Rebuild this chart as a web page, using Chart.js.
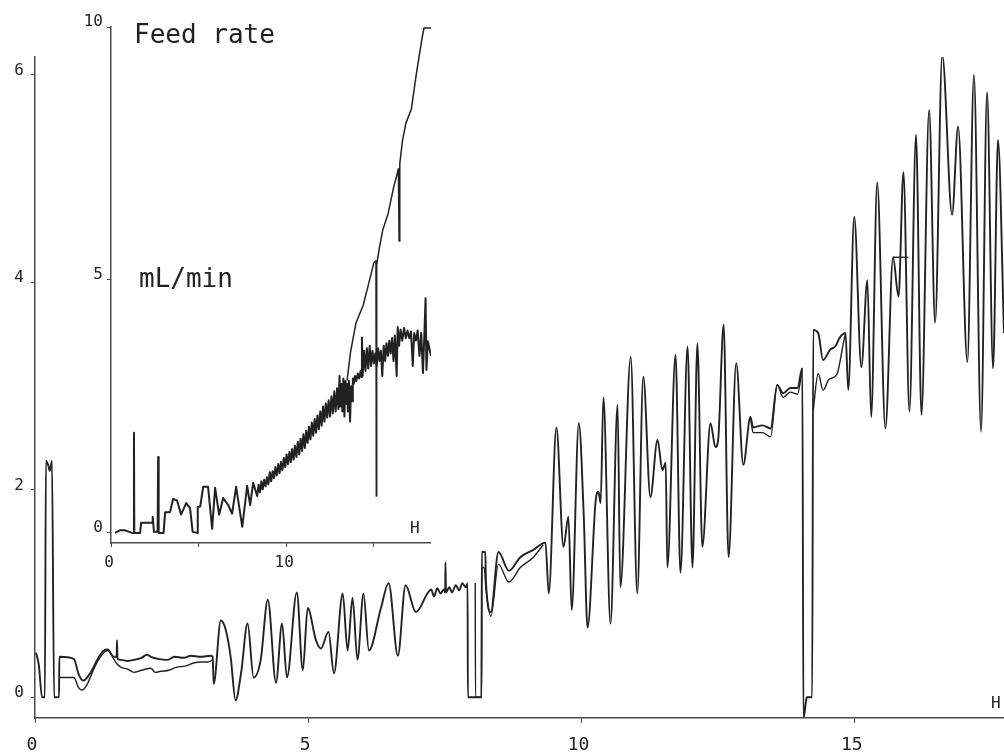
<!DOCTYPE html>
<html>
<head>
<meta charset="utf-8">
<script src="https://cdn.jsdelivr.net/npm/chart.js@4.4.1/dist/chart.umd.min.js"></script>
<style>
  body { margin: 0; background: #fff; }
  #wrap { position: relative; width: 1004px; height: 755px; overflow: hidden; }
  #main { position: absolute; left: 0; top: 0; }
  #inset { position: absolute; left: 60px; top: 0; }
  .lbl { position: absolute; font-family: 'DejaVu Sans Mono', monospace; color: #222; white-space: nowrap; line-height: 1; }
</style>
</head>
<body>
<div id="wrap">
  <canvas id="main" width="1004" height="755"></canvas>
  <canvas id="inset" width="371" height="575"></canvas>
  <div class="lbl" style="left:134px;top:21px;font-size:26px">Feed rate</div>
  <div class="lbl" style="left:139px;top:265px;font-size:26px">mL/min</div>
  <div class="lbl" style="left:410px;top:520px;font-size:16px">H</div>
  <div class="lbl" style="left:991px;top:695px;font-size:16px">H</div>
</div>
<script>
// main recording, hours vs signal (two pens, mostly on top of each other)

var mainHourTicks = [0, 5, 10, 15];
var mainValueTicks = [0, 2, 4, 6];

var penA = [
  [0.02,0.43],[0.07,0.31],[0.13,0.00],[0.18,0.00],[0.20,2.28],[0.24,2.24],[0.27,2.18],[0.31,2.28],
  [0.35,0.00],[0.44,0.00],[0.445,0.39],[0.71,0.37],[0.80,0.22],[0.88,0.16],[1.02,0.24],[1.16,0.38],
  [1.26,0.45],[1.33,0.46],[1.44,0.39],[1.495,0.39],[1.50,0.55],[1.51,0.37],[1.57,0.36],[1.70,0.35],
  [1.81,0.36],[1.95,0.38],[2.05,0.41],[2.12,0.39],[2.25,0.37],[2.43,0.36],[2.55,0.39],[2.72,0.38],
  [2.85,0.40],[3.03,0.39],[3.22,0.40],[3.25,0.39],[3.27,0.13],[3.40,0.74],[3.49,0.65],[3.58,0.39],
  [3.67,-0.03],[3.77,0.23],[3.89,0.71],[4.00,0.19],[4.13,0.36],[4.26,0.94],[4.41,0.14],[4.52,0.71],
  [4.61,0.19],[4.79,1.01],[4.90,0.26],[4.99,0.86],[5.14,0.55],[5.23,0.47],[5.37,0.63],[5.47,0.23],
  [5.63,1.00],[5.72,0.45],[5.81,0.96],[5.90,0.36],[6.01,1.00],[6.11,0.45],[6.33,0.86],[6.47,1.10],
  [6.64,0.40],[6.78,1.08],[6.97,0.82],[7.18,1.00],[7.25,1.04],[7.30,0.97],[7.36,1.05],[7.42,1.00],
  [7.48,1.04],[7.505,1.01],[7.51,1.30],[7.52,1.01],[7.58,1.06],[7.63,1.01],[7.70,1.08],[7.76,1.03],
  [7.82,1.10],[7.88,1.06],[7.915,1.10],[7.92,0.00],[8.17,0.00],[8.175,1.40],[8.24,1.40],[8.25,1.13],
  [8.34,0.82],[8.48,1.40],[8.67,1.22],[8.88,1.35],[9.12,1.42],[9.34,1.49],[9.40,1.00],[9.54,2.60],
  [9.67,1.45],[9.76,1.74],[9.82,0.84],[9.95,2.64],[10.04,1.76],[10.11,0.67],[10.26,1.90],[10.31,1.98],
  [10.35,1.87],[10.40,2.89],[10.53,0.71],[10.66,2.82],[10.71,1.06],[10.90,3.28],[11.02,1.00],[11.13,3.09],
  [11.26,1.93],[11.39,2.48],[11.48,2.19],[11.54,2.26],[11.57,1.25],[11.72,3.30],[11.81,1.20],[11.94,3.38],
  [12.03,1.25],[12.12,3.41],[12.21,1.45],[12.36,2.64],[12.45,2.41],[12.50,2.48],[12.60,3.59],[12.69,1.35],
  [12.83,3.22],[12.96,2.24],[13.09,2.70],[13.14,2.60],[13.31,2.62],[13.46,2.59],[13.58,3.01],[13.69,2.93],
  [13.82,2.98],[13.95,2.98],[14.04,3.17],[14.06,-0.20],[14.11,-0.03],[14.12,0.00],[14.22,0.00],[14.24,3.54],
  [14.33,3.51],[14.42,3.25],[14.55,3.35],[14.64,3.38],[14.73,3.47],[14.83,3.51],[14.88,2.96],[14.99,4.63],
  [15.12,3.18],[15.23,4.02],[15.30,2.70],[15.41,4.96],[15.56,2.59],[15.70,4.24],[15.80,3.86],[15.89,5.06],
  [16.00,2.75],[16.12,5.42],[16.22,2.72],[16.36,5.66],[16.47,3.61],[16.60,6.19],[16.78,4.65],[16.89,5.50],
  [17.06,3.23],[17.18,6.00],[17.31,2.56],[17.42,5.83],[17.53,3.17],[17.62,5.37],[17.73,3.51]
];

// second pen, only where it separates from the first
var penB1 = [
  [0.44,0.19],[0.71,0.19],[0.80,0.09],[0.86,0.07],[0.95,0.12],[1.10,0.30],[1.26,0.43],[1.33,0.45],
  [1.44,0.37],[1.50,0.32],[1.57,0.29],[1.70,0.27],[1.81,0.24],[1.95,0.26],[2.12,0.28],[2.20,0.24],
  [2.30,0.25],[2.45,0.26],[2.60,0.29],[2.75,0.30],[2.90,0.33],[3.05,0.34],[3.17,0.34],[3.25,0.36]
];
var penB2 = [
  [8.055,1.10],[8.06,0.00],[8.17,0.00],[8.175,1.25],[8.22,1.25],[8.25,1.05],[8.34,0.78],[8.48,1.28],
  [8.67,1.11],[8.88,1.25],[9.12,1.35],[9.30,1.47]
];
var penB3 = [
  [13.09,2.70],[13.14,2.55],[13.31,2.55],[13.46,2.51],[13.58,3.01],[13.69,2.89],[13.82,2.94],[13.95,2.92],[14.04,3.17]
];
var penB4 = [
  [14.24,2.77],[14.33,3.12],[14.42,2.96],[14.52,3.06],[14.60,3.08],[14.68,3.12],[14.79,3.41],[14.83,3.51]
];
var penB5 = [[15.70,4.24],[15.98,4.24]];

// inset: feed rate (mL/min) vs hours
var insetHourTicks = [0, 5, 10, 15];
var insetHourLabels = ['0', '', '10', ''];
var insetRateTicks = [0, 5, 10];

var feedLow = [
  [0.23,0.00],[0.50,0.05],[0.80,0.05],[1.20,0.00],[1.29,0.00],[1.31,1.98],[1.33,0.00],[1.66,0.00],
  [1.72,0.20],[2.34,0.20],[2.38,0.32],[2.45,0.02],[2.66,0.02],[2.69,1.50],[2.72,0.00],[3.00,0.00],
  [3.09,0.41],[3.37,0.41],[3.54,0.67],[3.77,0.64],[4.00,0.36],[4.29,0.59],[4.51,0.49],[4.66,0.02],
  [4.91,0.00],[4.95,0.51],[5.09,0.52],[5.26,0.91],[5.54,0.91],[5.77,0.08],[5.94,0.89],[6.17,0.36],
  [6.40,0.69],[6.69,0.55],[6.91,0.38],[7.14,0.91],[7.49,0.12],[7.77,0.93],[7.94,0.55],[8.11,0.99],
  [8.34,0.73],[8.42,0.95],[8.50,0.80],[8.58,1.02],[8.66,0.86],[8.74,1.05],[8.82,0.92],[8.90,1.10],
  [8.98,0.96],[9.06,1.20],[9.14,1.02],[9.22,1.22],[9.30,1.08],[9.38,1.30],[9.46,1.14],[9.54,1.36],
  [9.62,1.18],[9.70,1.40],[9.78,1.24],[9.86,1.48],[9.94,1.30],[10.02,1.55],[10.10,1.36],[10.18,1.60],
  [10.26,1.40],[10.34,1.66],[10.42,1.45],[10.50,1.72],[10.58,1.50],[10.66,1.80],[10.74,1.55],[10.82,1.86],
  [10.90,1.62],[10.98,1.95],[11.06,1.68],[11.14,2.02],[11.22,1.78],[11.30,2.10],[11.38,1.85],[11.46,2.18],
  [11.54,1.92],[11.62,2.25],[11.70,1.98],[11.78,2.32],[11.86,2.05],[11.94,2.40],[12.02,2.12],[12.10,2.50],
  [12.18,2.20],[12.26,2.56],[12.34,2.28],[12.42,2.62],[12.50,2.30],[12.58,2.70],[12.66,2.36],[12.74,2.80],
  [12.82,2.40],[12.90,2.86],[12.98,2.45],[13.04,3.10],[13.08,2.50],[13.14,2.95],[13.20,2.40],[13.26,3.05],
  [13.32,2.30],[13.38,3.00],[13.44,2.55],[13.48,2.95],[13.52,2.40],[13.58,3.00],[13.64,2.20],[13.70,2.90],
  [13.76,2.60],[13.80,3.05],[13.86,2.95],[13.92,3.10],[14.00,3.00],[14.08,3.15],[14.16,3.05],[14.24,3.20],
  [14.30,3.08],[14.32,3.86],[14.36,3.10],[14.44,3.60],[14.52,3.20],[14.60,3.65],[14.68,3.25],[14.76,3.70],
  [14.84,3.30],[14.92,3.60],[15.00,3.35],[15.08,3.55],[15.16,3.30],[15.24,3.65],[15.32,3.40],[15.40,3.60],
  [15.48,3.10],[15.56,3.70],[15.64,3.40],[15.72,3.75],[15.80,3.50],[15.88,3.80],[15.96,3.55],[16.04,3.85],
  [16.12,3.40],[16.20,3.90],[16.30,3.10],[16.36,4.07],[16.44,3.70],[16.52,4.02],[16.62,3.80],[16.72,4.05],
  [16.82,3.85],[16.92,4.00],[17.02,3.85],[17.12,3.98],[17.22,3.30],[17.30,3.95],[17.40,3.80],[17.50,4.00],
  [17.60,3.50],[17.70,3.95],[17.80,3.16],[17.88,3.90],[17.95,4.64],[18.00,3.22],[18.08,3.79],[18.26,3.50]
];

var feedHigh = [
  [13.47,3.01],[13.67,3.58],[13.98,4.15],[14.39,4.50],[14.80,5.06],[15.00,5.34],[15.12,5.38],[15.14,0.73],
  [15.16,5.30],[15.31,5.63],[15.51,5.99],[15.82,6.32],[16.12,6.82],[16.33,7.10],[16.40,7.20],[16.44,5.77],
  [16.48,7.30],[16.63,7.75],[16.83,8.10],[17.14,8.38],[17.43,9.09],[17.75,9.78],[17.86,9.98],[18.26,9.98]
];

var ink = '#222';
var axisInk = '#4a4a4a';
var monoFont = "'DejaVu Sans Mono', monospace";

function trace(points, width, smooth) {
  return {
    data: points.map(function (p) { return { x: p[0], y: p[1] }; }),
    borderColor: ink,
    borderWidth: width,
    borderJoinStyle: 'round',
    pointRadius: 0,
    fill: false,
    cubicInterpolationMode: smooth ? 'monotone' : 'default',
    tension: 0
  };
}

function fixTicks(values) {
  return function (scale) {
    scale.ticks = values.map(function (v) { return { value: v }; });
  };
}

new Chart(document.getElementById('main'), {
  type: 'line',
  data: {
    datasets: [
      trace(penA, 1.9, true),
      trace(penB1, 1.4, true),
      trace(penB2, 1.4, true),
      trace(penB3, 1.4, true),
      trace(penB4, 1.4, true),
      trace(penB5, 1.4, false)
    ]
  },
  options: {
    responsive: false,
    animation: false,
    layout: { padding: { top: 57, right: 0, bottom: 0, left: 0 } },
    plugins: { legend: { display: false }, tooltip: { enabled: false } },
    scales: {
      x: {
        type: 'linear',
        min: 0,
        max: 17.73,
        afterBuildTicks: fixTicks(mainHourTicks),
        afterFit: function (s) { s.height = 37; },
        grid: { drawOnChartArea: false, drawTicks: true, tickLength: 5, color: axisInk },
        border: { color: axisInk, width: 1.5 },
        ticks: { color: ink, font: { family: monoFont, size: 18 }, padding: 12, maxRotation: 0, labelOffset: -3 }
      },
      y: {
        type: 'linear',
        min: -0.2,
        max: 6.17,
        afterBuildTicks: fixTicks(mainValueTicks),
        afterFit: function (s) { s.width = 35; },
        grid: { drawOnChartArea: false, drawTicks: true, tickLength: 4, color: axisInk },
        border: { color: axisInk, width: 1.5 },
        ticks: { color: ink, font: { family: monoFont, size: 16 }, padding: 7, labelOffset: -4 }
      }
    }
  }
});

new Chart(document.getElementById('inset'), {
  type: 'line',
  data: {
    datasets: [
      trace(feedLow, 2.0, false),
      trace(feedHigh, 1.5, false)
    ]
  },
  options: {
    responsive: false,
    animation: false,
    layout: { padding: { top: 27, right: 0, bottom: 0, left: 0 } },
    plugins: { legend: { display: false }, tooltip: { enabled: false } },
    scales: {
      x: {
        type: 'linear',
        min: 0,
        max: 18.26,
        afterBuildTicks: fixTicks(insetHourTicks),
        afterFit: function (s) { s.height = 32; },
        grid: { drawOnChartArea: false, drawTicks: true, tickLength: 4, color: axisInk },
        border: { color: axisInk, width: 1.5 },
        ticks: {
          color: ink, font: { family: monoFont, size: 16 }, padding: 6, maxRotation: 0, labelOffset: -2,
          callback: function (v, i) { return insetHourLabels[i]; }
        }
      },
      y: {
        type: 'linear',
        min: -0.2,
        max: 10,
        afterBuildTicks: fixTicks(insetRateTicks),
        afterFit: function (s) { s.width = 51; },
        grid: { drawOnChartArea: false, drawTicks: true, tickLength: 4, color: axisInk },
        border: { color: axisInk, width: 1.5 },
        ticks: { color: ink, font: { family: monoFont, size: 16 }, padding: 4, labelOffset: -5 }
      }
    }
  }
});
</script>
</body>
</html>
